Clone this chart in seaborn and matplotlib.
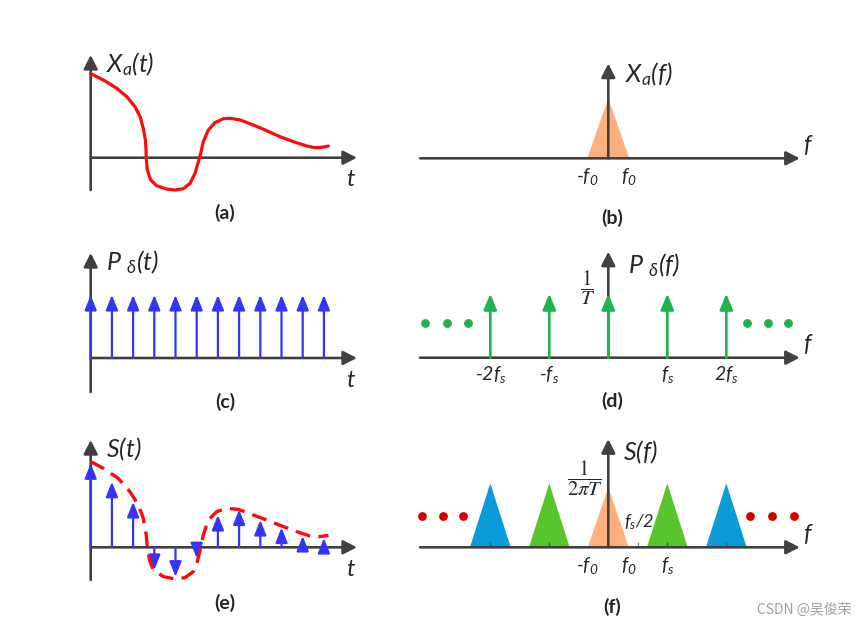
import matplotlib
matplotlib.use("Agg")
import matplotlib.pyplot as plt
import seaborn as sns
import pandas as pd

# (a) continuous signal x_a(t) (t in sample periods)
xa_t = [0.0, 0.6, 1.23, 1.70, 2.09, 2.33, 2.48, 2.58, 2.61, 2.62, 2.67, 2.83, 3.11,
        3.58, 3.98, 4.37, 4.69, 4.92, 5.08, 5.19, 5.31, 5.55, 5.86, 6.26, 6.58, 7.05,
        7.67, 8.30, 8.93, 9.56, 10.19, 10.58, 10.89, 11.21]
xa_v = [1.00, 0.925, 0.826, 0.727, 0.607, 0.488, 0.350, 0.211, 0.092, -0.008, -0.146,
        -0.265, -0.333, -0.373, -0.385, -0.369, -0.305, -0.186, -0.047, 0.052, 0.191,
        0.330, 0.417, 0.465, 0.469, 0.449, 0.389, 0.322, 0.250, 0.191, 0.139, 0.119,
        0.123, 0.139]

# (e) dashed envelope
se_t = [0.0, 0.6, 1.30, 1.85, 2.25, 2.48, 2.61, 2.67, 2.77, 2.95, 3.43, 3.98, 4.45,
        4.84, 5.03, 5.16, 5.31, 5.55, 5.94, 6.41, 6.96, 7.67, 8.30, 9.01, 9.72, 10.34,
        10.82, 11.21]
se_v = [1.02, 0.94, 0.821, 0.662, 0.504, 0.345, 0.166, 0.008, -0.151, -0.270, -0.349,
        -0.377, -0.361, -0.290, -0.171, -0.032, 0.146, 0.325, 0.424, 0.464, 0.452,
        0.385, 0.325, 0.254, 0.186, 0.135, 0.127, 0.143]

# sample instants and values
n_samples = list(range(12))
comb_t = [0.75] * 12
samples = [1.00, 0.78, 0.54, -0.27, -0.35, -0.13, 0.385, 0.45, 0.325, 0.235, 0.135, 0.11]

# frequency domain (f in units of fs)
f0 = 0.355
spec_h = 0.94
comb_f = [-2, -1, 0, 1, 2]
comb_f_h = [1.0] * 5
comb_f_labels = ["-2$f_s$", "-$f_s$", "", "$f_s$", "2$f_s$"]
rep_f = [-2, -1, 0, 1, 2]
rep_h = [1.0, 1.0, 0.94, 1.0, 1.0]
rep_colors = ["#0A9BD8", "#58C52A", "#FDB07C", "#58C52A", "#0A9BD8"]
dots_d = [-3.11, -2.74, -2.38, 2.35, 2.71, 3.05]
dots_d_v = [0.54] * 6
dots_f = [-3.16, -2.81, -2.46, 2.41, 2.77, 3.14]
dots_f_v = [0.49] * 6

sns.set_theme(style="white")
plt.rcParams["font.family"] = ["Lato", "DejaVu Sans"]
plt.rcParams["mathtext.fontset"] = "custom"
plt.rcParams["mathtext.it"] = "Lato:italic"
plt.rcParams["mathtext.rm"] = "Lato:italic"
plt.rcParams["mathtext.bf"] = "Lato:bold"

W, H = 867, 631
fig = plt.figure(figsize=(W / 100, H / 100), dpi=100)
AX = "#404040"


def panel(x0, y0, sx, sy, xlim, ylim):
    left = x0 + xlim[0] * sx
    right = x0 + xlim[1] * sx
    top = y0 - ylim[1] * sy
    bottom = y0 - ylim[0] * sy
    ax = fig.add_axes([left / W, 1 - bottom / H, (right - left) / W, (bottom - top) / H])
    ax.set_xlim(xlim)
    ax.set_ylim(ylim)
    ax.axis("off")
    return ax


def arrow(ax, start, tip, color=AX, lw=1.9, ms=15, hl=0.55, hw=0.28, z=3):
    ax.annotate("", xy=tip, xytext=start, annotation_clip=False, zorder=z,
                arrowprops=dict(arrowstyle=f"-|>,head_length={hl},head_width={hw}",
                                color=color, lw=lw, shrinkA=0, shrinkB=0,
                                mutation_scale=ms))


def time_axes(ax, ytop, ybot, name, lab):
    arrow(ax, (0, ybot), (0, ytop))
    arrow(ax, (0, 0), (12.56, 0))
    ax.text(0.72, ytop - 0.11, name, fontsize=18, ha="left", va="center")
    ax.text(12.23, -0.265, "t", fontsize=17, fontstyle="italic", ha="center", va="center")
    ax.text(6.33, lab, lab_txt[name], fontsize=14, fontweight="bold", ha="center", va="center")


def freq_axes(ax, ytop, name, namepos, lab, lab_s):
    arrow(ax, (-3.19, 0), (3.245, 0))
    arrow(ax, (0, 0), (0, ytop))
    ax.text(namepos[0], namepos[1], name, fontsize=18, ha="left", va="center")
    ax.text(3.37, 0.2, "f", fontsize=17, fontstyle="italic", ha="center", va="center")
    ax.text(0.06, lab, lab_s, fontsize=14, fontweight="bold", ha="center", va="center")


lab_txt = {r"$X_a(t)$": "(a)", r"$P\ {}_\delta(t)$": "(c)", r"$S(t)$": "(e)"}
ts, vs = 21.2, 84
fs_, fv = 59, 64

# (a)
ax = panel(90.7, 157.7, ts, vs, (-1.2, 13.2), (-0.8, 1.4))
time_axes(ax, 1.223, -0.385, r"$X_a(t)$", -0.655)
sns.lineplot(x=xa_t, y=xa_v, ax=ax, color="#FF0A0A", lw=2.3, sort=False, estimator=None, zorder=4)

# (c)
ax = panel(90.7, 358, ts, vs, (-1.2, 13.2), (-0.8, 1.4))
time_axes(ax, 1.25, -0.405, r"$P\ {}_\delta(t)$", -0.52)
for t, v in zip(n_samples, comb_t):
    arrow(ax, (t, 0), (t, v), color="#3535F5", lw=1.6, ms=12, hl=0.75, hw=0.3, z=5)

# (e)
ax = panel(90.7, 547.3, ts, vs, (-1.2, 13.2), (-0.8, 1.4))
time_axes(ax, 1.277, -0.389, r"$S(t)$", -0.66)
for t, v in zip(n_samples, samples):
    arrow(ax, (t, 0), (t, v), color="#3535F5", lw=1.6, ms=12, hl=0.75, hw=0.3, z=5)
sns.lineplot(x=se_t, y=se_v, ax=ax, color="#FF0A0A", lw=2.4, sort=False, estimator=None,
             linestyle=(0, (4.5, 2.5)), zorder=6)

# (b)
ax = panel(608.3, 158.3, fs_, fv, (-3.6, 3.6), (-1.0, 1.8))
ax.fill([-f0, 0, f0], [0, spec_h, 0], color="#FDB07C", lw=0, zorder=1)
freq_axes(ax, 1.48, r"$X_a(f)$", (0.28, 1.317), -0.93, "(b)")
ax.text(-0.353, -0.29, "-$f_0$", fontsize=14, fontstyle="italic", ha="center", va="center")
ax.text(0.35, -0.29, "$f_0$", fontsize=14, fontstyle="italic", ha="center", va="center")

# (d)
ax = panel(608.3, 357.7, fs_, fv, (-3.6, 3.6), (-1.0, 1.8))
freq_axes(ax, 1.656, r"$P\ {}_\delta(f)$", (0.34, 1.45), -0.67, "(d)")
for f, h, s in zip(comb_f, comb_f_h, comb_f_labels):
    arrow(ax, (f, 0), (f, h), color="#1FB350", lw=1.9, ms=12, hl=0.8, hw=0.33, z=5)
    ax.text(f, -0.27, s, fontsize=14, fontstyle="italic", ha="center", va="center")
sns.scatterplot(x=dots_d, y=dots_d_v, ax=ax, color="#1FB350", s=40, linewidth=0, zorder=5)
ax.text(-0.345, 1.09, r"$\dfrac{1}{T}$", math_fontfamily="stix", fontsize=15,
        ha="center", va="center")

# (f)
ax = panel(608.3, 547.3, fs_, fv, (-3.6, 3.6), (-1.0, 1.8))
for c, h, col in zip(rep_f, rep_h, rep_colors):
    ax.fill([c - f0 + 0.01, c, c + f0 - 0.01], [0, h, 0], color=col, lw=0, zorder=1)
    if c != 0:
        ax.vlines(c, 0, 0.09, color="#555555", lw=1, zorder=2)
ax.vlines(0.5, 0, 0.09, color="#8A8A8A", lw=1, zorder=2)
freq_axes(ax, 1.69, r"$S(f)$", (0.25, 1.48), -0.93, "(f)")
sns.scatterplot(x=dots_f, y=dots_f_v, ax=ax, color="#D50000", s=40, linewidth=0, zorder=5)
ax.text(-0.353, -0.277, "-$f_0$", fontsize=14, fontstyle="italic", ha="center", va="center")
ax.text(0.345, -0.277, "$f_0$", fontsize=14, fontstyle="italic", ha="center", va="center")
ax.text(1.0, -0.277, "$f_s$", fontsize=14, fontstyle="italic", ha="center", va="center")
ax.text(0.52, 0.40, "$f_s$/2", fontsize=13, fontstyle="italic", ha="center", va="center")
ax.text(-0.395, 1.08, r"$\dfrac{1}{2\pi T}$", math_fontfamily="stix", fontsize=15,
        ha="center", va="center")

fig.text(0.982, 1 - 610 / H, "CSDN @吴俊荣", family=["Noto Sans CJK SC", "DejaVu Sans"],
         color="#A0A0A0", fontsize=10, ha="right", va="center")

fig.savefig("out.png", dpi=100)
